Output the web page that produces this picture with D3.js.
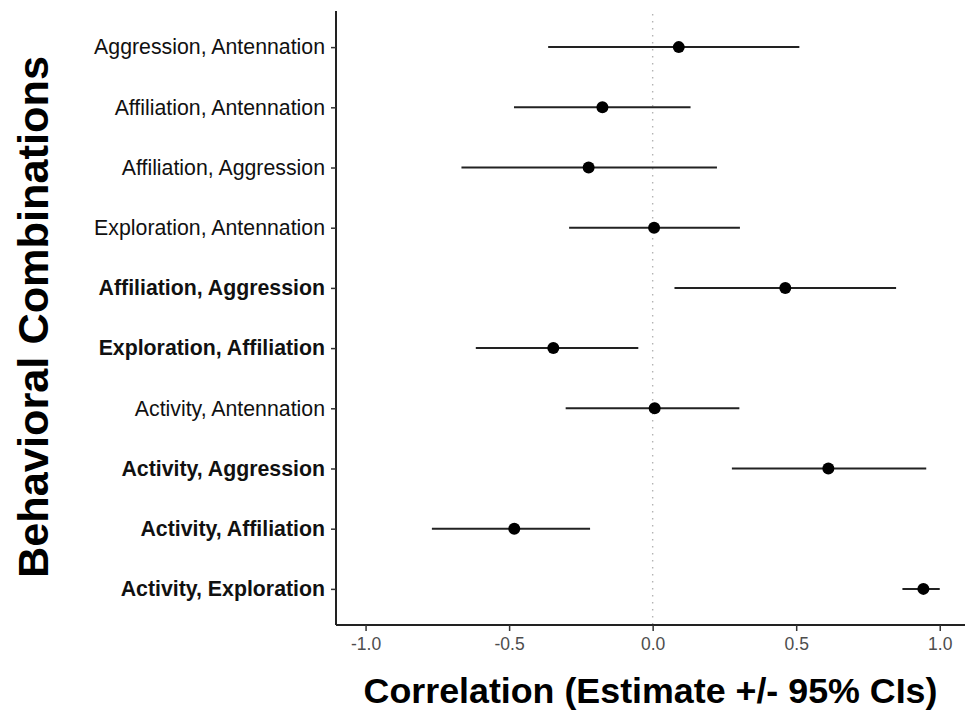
<!DOCTYPE html>
<html>
<head>
<meta charset="utf-8">
<script src="https://cdn.jsdelivr.net/npm/d3@7/dist/d3.min.js"></script>
<style>
  body { margin: 0; background: #fff; }
  svg { display: block; font-family: "Liberation Sans", Arial, Helvetica, sans-serif; }
</style>
</head>
<body>
<svg id="chart" width="967" height="712"></svg>
<script>
// behaviour pairs, top to bottom
const combos = [
  'Aggression, Antennation',
  'Affiliation, Antennation',
  'Affiliation, Aggression',
  'Exploration, Antennation',
  'Affiliation, Aggression ',
  'Exploration, Affiliation',
  'Activity, Antennation',
  'Activity, Aggression',
  'Activity, Affiliation',
  'Activity, Exploration'
];
// which labels are bold (significant)
const significant = [false, false, false, false, true, true, false, true, true, true];
const estimates = [0.091, -0.175, -0.223, 0.005, 0.462, -0.346, 0.007, 0.612, -0.482, 0.943];
const lowerCI = [-0.364, -0.483, -0.666, -0.291, 0.076, -0.616, -0.303, 0.276, -0.769, 0.870];
const upperCI = [0.511, 0.132, 0.224, 0.304, 0.848, -0.050, 0.302, 0.953, -0.218, 1.0];
const xTicks = [-1.0, -0.5, 0.0, 0.5, 1.0];

const rows = combos.map((c, i) => ({
  combo: c, bold: significant[i], est: estimates[i], lo: lowerCI[i], hi: upperCI[i]
}));

const svg = d3.select('#chart');
const panel = { left: 336, right: 965, top: 11, bottom: 625 };

const x = d3.scaleLinear().domain([-1.103, 1.088]).range([panel.left, panel.right]);
const y = d3.scalePoint().domain(combos).range([panel.top, panel.bottom]).padding(0.6);

// reference line at zero
svg.append('line')
  .attr('x1', x(0)).attr('x2', x(0))
  .attr('y1', panel.top + 3).attr('y2', panel.bottom)
  .attr('stroke', '#b3b3b3')
  .attr('stroke-width', 1.4)
  .attr('stroke-dasharray', '1.4,5.6');

// x axis (plain hyphen for the minus sign, like the original)
const xAxis = svg.append('g')
  .attr('transform', 'translate(0,' + panel.bottom + ')')
  .call(d3.axisBottom(x).tickValues(xTicks)
    .tickFormat((d) => d.toFixed(1))
    .tickSize(6).tickPadding(7));
xAxis.select('.domain').attr('stroke', '#222').attr('stroke-width', 2)
  .attr('d', 'M' + panel.left + ',0H' + panel.right);
xAxis.selectAll('.tick line').attr('stroke', '#333').attr('stroke-width', 1.5);
xAxis.selectAll('.tick text').attr('fill', '#4d4d4d').style('font-size', '17.5px');

// y axis
const yAxis = svg.append('g')
  .attr('transform', 'translate(' + panel.left + ',0)')
  .call(d3.axisLeft(y).tickSize(5).tickPadding(6));
yAxis.select('.domain').attr('stroke', '#222').attr('stroke-width', 2)
  .attr('d', 'M0,' + panel.top + 'V' + panel.bottom);
yAxis.selectAll('.tick line').attr('stroke', '#333').attr('stroke-width', 1.5);
yAxis.selectAll('.tick text')
  .attr('fill', '#111')
  .style('font-size', '21.3px')
  .style('font-weight', (d, i) => significant[i] ? 'bold' : 'normal');

// error bars
svg.append('g').selectAll('line.ci')
  .data(rows)
  .enter()
  .append('line')
  .attr('class', 'ci')
  .attr('x1', (d) => x(d.lo))
  .attr('x2', (d) => x(d.hi))
  .attr('y1', (d) => y(d.combo))
  .attr('y2', (d) => y(d.combo))
  .attr('stroke', '#222')
  .attr('stroke-width', 2);

// estimates
svg.append('g').selectAll('circle')
  .data(rows)
  .enter()
  .append('circle')
  .attr('cx', (d) => x(d.est))
  .attr('cy', (d) => y(d.combo))
  .attr('r', 6)
  .attr('fill', '#000');

// axis titles
svg.append('text')
  .attr('x', (panel.left + panel.right) / 2)
  .attr('y', 703)
  .attr('text-anchor', 'middle')
  .style('font-size', '35.8px')
  .style('font-weight', 'bold')
  .text('Correlation (Estimate +/- 95% CIs)');

svg.append('text')
  .attr('transform', 'translate(48,' + 317 + ') rotate(-90)')
  .attr('text-anchor', 'middle')
  .style('font-size', '43.3px')
  .style('font-weight', 'bold')
  .text('Behavioral Combinations');
</script>
</body>
</html>
